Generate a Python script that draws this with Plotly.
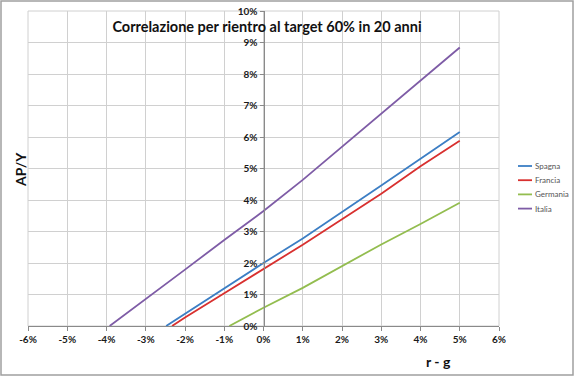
import plotly.graph_objects as go

# r - g (fraction) and AP/Y (fraction)
spagna_x = [-0.0248, -0.02, -0.01, 0.0, 0.01, 0.02, 0.03, 0.04, 0.05]
spagna_y = [0.0, 0.0039, 0.0121, 0.0200, 0.0278, 0.0361, 0.0446, 0.0531, 0.0616]
francia_x = [-0.0233, -0.02, -0.01, 0.0, 0.01, 0.02, 0.03, 0.04, 0.05]
francia_y = [0.0, 0.0027, 0.0104, 0.0180, 0.0258, 0.0339, 0.0420, 0.0507, 0.0588]
germania_x = [-0.0087, 0.0, 0.01, 0.02, 0.03, 0.04, 0.05]
germania_y = [0.0, 0.0058, 0.0121, 0.0190, 0.0259, 0.0324, 0.0391]
italia_x = [-0.0392, -0.03, -0.02, -0.01, 0.0, 0.01, 0.02, 0.03, 0.04, 0.05]
italia_y = [0.0, 0.0085, 0.0179, 0.0273, 0.0365, 0.0464, 0.0569, 0.0675, 0.0780, 0.0884]

names = ["Spagna", "Francia", "Germania", "Italia"]
colors = ["#3c7ec4", "#d8302f", "#93bd4f", "#7e5ca6"]
series = [(spagna_x, spagna_y), (francia_x, francia_y), (germania_x, germania_y), (italia_x, italia_y)]

x_ticks = [-0.06, -0.05, -0.04, -0.03, -0.02, -0.01, 0.0, 0.01, 0.02, 0.03, 0.04, 0.05, 0.06]
x_labels = ["-6%", "-5%", "-4%", "-3%", "-2%", "-1%", "0%", "1%", "2%", "3%", "4%", "5%", "6%"]
y_ticks = [0.0, 0.01, 0.02, 0.03, 0.04, 0.05, 0.06, 0.07, 0.08, 0.09, 0.10]
y_labels = ["0%", "1%", "2%", "3%", "4%", "5%", "6%", "7%", "8%", "9%", "10%"]

fig = go.Figure()
for n, c, (xs, ys) in zip(names, colors, series):
    fig.add_trace(go.Scatter(x=xs, y=ys, mode="lines", name=n,
                             line=dict(color=c, width=1.8), showlegend=False))

FONT = "Lato"
L, R, T, B = 28, 76, 11, 51
PW, PH = 575 - L - R, 377 - T - B

def px_to_paper(px, py):
    return (px - L) / float(PW), (377 - B - py) / float(PH)

tickfont = dict(family=FONT, size=10, color="#1a1a1a")
fig.update_layout(
    width=575, height=377,
    margin=dict(l=L, r=R, t=T, b=B, autoexpand=False),
    paper_bgcolor="white", plot_bgcolor="white",
    font=dict(family=FONT, color="#222"),
    title=dict(text="<b>Correlazione per rientro al target 60% in 20 anni</b>",
               x=267 / 575, xanchor="center", xref="container",
               y=1 - 27 / 377, yanchor="middle", yref="container",
               font=dict(family=FONT, size=14.5, color="#111")),
    showlegend=False,
    xaxis=dict(range=[-0.06, 0.06], tickvals=x_ticks,
               ticktext=["<b>%s</b>" % s for s in x_labels],
               showgrid=True, gridcolor="#d0d0d0", gridwidth=1,
               showline=True, linecolor="#8a8a8a", linewidth=1,
               ticks="outside", ticklen=4, tickcolor="#8a8a8a",
               tickfont=tickfont,
               zeroline=False, fixedrange=True, automargin=False),
    yaxis=dict(range=[0, 0.10], tickvals=y_ticks,
               ticktext=["<b>%s</b>" % s for s in y_labels],
               anchor="free", position=0.5, side="left",
               showgrid=True, gridcolor="#d0d0d0", gridwidth=1,
               showline=True, linecolor="#8a8a8a", linewidth=1,
               ticks="outside", ticklen=4, tickcolor="#8a8a8a",
               tickfont=tickfont,
               zeroline=False, fixedrange=True, automargin=False),
)

ax, ay = px_to_paper(20, 170)
bx, by = px_to_paper(438, 361)
fig.add_annotation(text="<b>AP/Y</b>", x=ax, y=ay, xref="paper", yref="paper",
                   xanchor="center", yanchor="middle",
                   showarrow=False, textangle=-90,
                   font=dict(family=FONT, size=14, color="#111"))
fig.add_annotation(text="<b>r - g</b>", x=bx, y=by, xref="paper", yref="paper",
                   xanchor="center", yanchor="middle",
                   showarrow=False, font=dict(family=FONT, size=14, color="#111"))

# legend (drawn as line samples + text, Excel style compact spacing)
for i, (n, c) in enumerate(zip(names, colors)):
    yy = 166 + 14.2 * i
    x0, y0 = px_to_paper(518, yy)
    x1, _ = px_to_paper(532, yy)
    fig.add_shape(type="line", xref="paper", yref="paper", x0=x0, y0=y0, x1=x1, y1=y0,
                  line=dict(color=c, width=1.8))
    tx, _ = px_to_paper(533, yy)
    fig.add_annotation(text=n, x=tx, y=y0, xref="paper", yref="paper",
                       xanchor="left", yanchor="middle", showarrow=False,
                       font=dict(family=FONT, size=8, color="#555555"))

# right and top frame of plot area
fig.add_shape(type="rect", xref="paper", yref="paper", x0=0, y0=0, x1=1, y1=1,
              line=dict(color="#d0d0d0", width=1), layer="below")
# outer chart border
l0, t0 = px_to_paper(1, 1)
l1, t1 = px_to_paper(573, 375)
fig.add_shape(type="rect", xref="paper", yref="paper", x0=l0, y0=t1, x1=l1, y1=t0,
              line=dict(color="#a0a0a0", width=1.5))

fig.write_html("out.html", config={"displayModeBar": False},
               post_script="document.body.style.margin='0px';")
